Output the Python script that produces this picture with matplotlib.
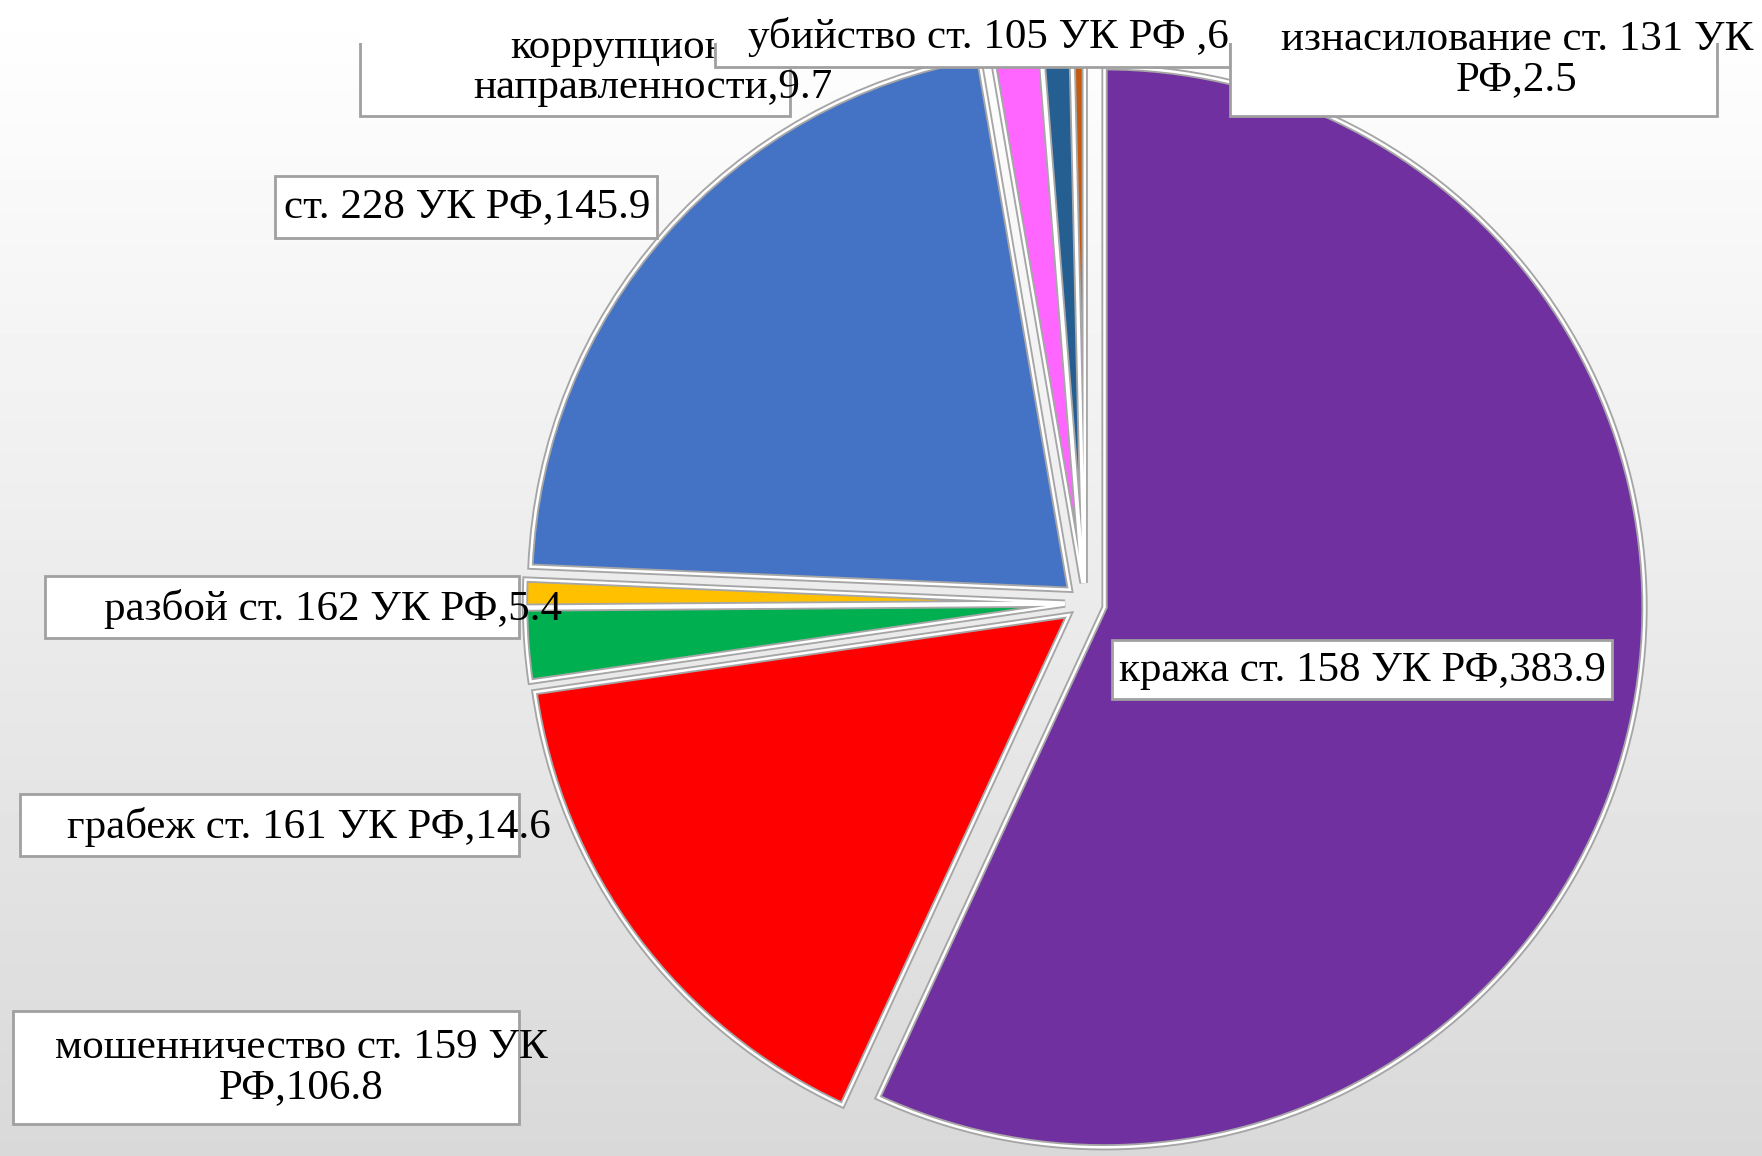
import matplotlib.pyplot as plt
import numpy as np
from matplotlib.patches import Rectangle, Wedge
from matplotlib.transforms import Bbox, TransformedBbox

plt.rcParams['font.family'] = ['Liberation Serif', 'DejaVu Serif']

# данные (по часовой стрелке от 12 часов)
names = ['кража ст. 158 УК РФ', 'мошенничество ст. 159 УК\nРФ', 'грабеж ст. 161 УК РФ',
         'разбой ст. 162 УК РФ', 'ст. 228 УК РФ', 'коррупционной\nнаправленности',
         'убийство ст. 105 УК РФ ', 'изнасилование ст. 131 УК\nРФ']
values = [383.9, 106.8, 14.6, 5.4, 145.9, 9.7, 6, 2.5]
colors = ['#7030A0', '#FF0000', '#00B050', '#FFC000', '#4472C4', '#FF66FF', '#255E91', '#C55A11']

# положение подписей и рамок в пикселях (y сверху вниз)
label_pos = [(1362, 671), (301, 1068), (309, 827), (333, 609), (467, 207),
             (653, 68), (988, 37), (1517, 60)]
boxes = [(1112, 640, 500, 59), (13, 1011, 506, 113), (20, 794, 499, 62), (45, 576, 474, 62),
         (275, 176, 382, 62), (360, 0, 430, 116), (715, 0, 515, 67), (1230, 0, 487, 116)]

W, H = 1762, 1156
fig = plt.figure(figsize=(W / 100, H / 100), dpi=100)

# фон с градиентом
bg = fig.add_axes([0, 0, 1, 1], zorder=0)
grad = np.linspace(1.0, 0.85, 256)[:, None]
bg.imshow(grad, cmap='gray', vmin=0, vmax=1, aspect='auto', extent=(0, 1, 0, 1))
bg.axis('off')

ax = fig.add_axes([0, 0, 1, 1], zorder=1)
ax.set_facecolor('none')

wedges, _ = ax.pie(values, colors=colors, startangle=-90, counterclock=True,
                   center=(1085, 603), radius=540, explode=[20] * len(values),
                   wedgeprops=dict(edgecolor='#a6a6a6', linewidth=4.5))
for w in wedges:
    ax.add_patch(Wedge(w.center, w.r, w.theta1, w.theta2, fill=False,
                       edgecolor='white', linewidth=1.8))

ax.set_xlim(0, W)
ax.set_ylim(H, 0)
ax.axis('off')

# рамки верхних подписей обрезаны сверху
clip = TransformedBbox(Bbox([[0, 0], [1, (H - 43) / H]]), fig.transFigure)

for i, (name, val) in enumerate(zip(names, values)):
    x, y, w, h = boxes[i]
    ax.add_patch(Rectangle((x, y), w, h, facecolor='white', edgecolor='none',
                           zorder=3 + 2 * i))
    edge = Rectangle((x, y), w, h, fill=False, edgecolor='#a0a0a0', linewidth=2,
                     zorder=3 + 2 * i)
    ax.add_patch(edge)
    edge.set_clip_box(clip)
    tx, ty = label_pos[i]
    ax.text(tx, ty, f'{name},{val:g}', ha='center', va='center', fontsize=31,
            linespacing=1.05, zorder=4 + 2 * i, color='black')

fig.savefig('out.png', dpi=100)
